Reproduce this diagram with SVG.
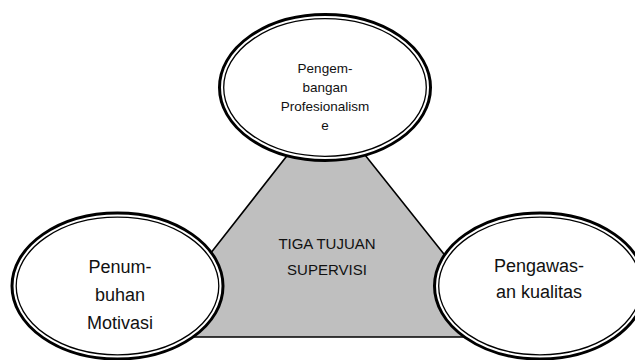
<svg xmlns="http://www.w3.org/2000/svg" width="635" height="360" viewBox="0 0 635 360">
<style>
.outer{fill:#fff;stroke:#000;stroke-width:3}
.inner{fill:none;stroke:#000;stroke-width:1.3}
.t{font-family:"Liberation Sans",Arial,sans-serif;fill:#111;text-anchor:middle}
</style>
<rect width="635" height="360" fill="#fff"/>
<g id="connectors"></g>
<g id="center">
<polygon points="326,106 145,337 510,337" fill="#bfbfbf" stroke="#000" stroke-width="1.6"/>
<text class="t" x="327" y="249" font-size="15">TIGA TUJUAN</text>
<text class="t" x="327" y="275" font-size="15">SUPERVISI</text>
</g>
<g id="top">
<ellipse class="outer" cx="325" cy="87.5" rx="105.5" ry="73"/>
<ellipse class="inner" cx="325" cy="87.5" rx="101.3" ry="68.8"/>
<text class="t" x="325" y="73" font-size="13.5">Pengem-</text>
<text class="t" x="325" y="92" font-size="13.5">bangan</text>
<text class="t" x="325" y="111" font-size="13.5">Profesionalism</text>
<text class="t" x="325" y="130" font-size="13.5">e</text>
</g>
<g id="left">
<ellipse class="outer" cx="117.5" cy="286" rx="105.5" ry="73"/>
<ellipse class="inner" cx="117.5" cy="286" rx="101.3" ry="68.8"/>
<text class="t" x="120" y="273" font-size="18">Penum-</text>
<text class="t" x="120" y="301" font-size="18">buhan</text>
<text class="t" x="120" y="329" font-size="18">Motivasi</text>
</g>
<g id="right">
<ellipse class="outer" cx="540" cy="286" rx="105.5" ry="73"/>
<ellipse class="inner" cx="540" cy="286" rx="101.3" ry="68.8"/>
<text class="t" x="539" y="272" font-size="18">Pengawas-</text>
<text class="t" x="539" y="298" font-size="18">an kualitas</text>
</g>
</svg>
